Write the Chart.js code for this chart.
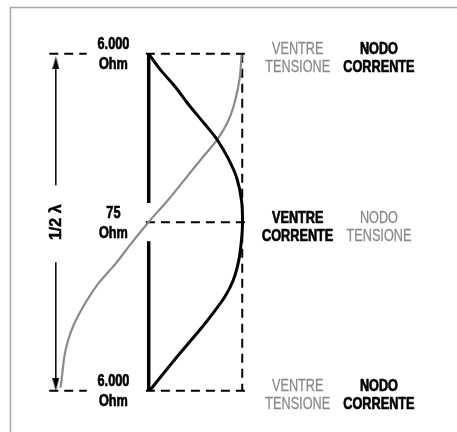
<!DOCTYPE html>
<html><head><meta charset="utf-8">
<script src="https://cdn.jsdelivr.net/npm/chart.js@4.4.0/dist/chart.umd.min.js"></script>
<style>html,body{margin:0;padding:0;background:#fff;} canvas{display:block;}</style>
</head><body>
<canvas id="c" width="457" height="432"></canvas>
<script>
// Position along the half-wave dipole: 1 = top end, 0.5 = feed point, 0 = bottom end
const currentPos = [1.000,0.951,0.903,0.851,0.794,0.745,0.688,0.630,0.564,0.499,0.450,0.387,0.327,0.278,0.232,0.189,0.146,0.100,0.049,0.000];
const currentAmp = [0.00,0.13,0.28,0.42,0.59,0.73,0.85,0.94,0.99,1.00,0.99,0.96,0.90,0.81,0.69,0.57,0.44,0.30,0.15,0.01];
const voltagePos = [0.997,0.928,0.860,0.802,0.745,0.688,0.622,0.564,0.501,0.436,0.378,0.321,0.281,0.244,0.195,0.149,0.100,0.052,0.009];
const voltageAmp = [0.99,0.97,0.92,0.85,0.73,0.56,0.37,0.20,0.00,-0.19,-0.35,-0.53,-0.63,-0.71,-0.80,-0.86,-0.90,-0.92,-0.94];
const rowPos = [1, 0.5, 0];
const impedance = ["6.000", "75", "6.000"];
const impedanceUnit = "Ohm";
const ventreOf = ["TENSIONE", "CORRENTE", "TENSIONE"];
const nodoOf = ["CORRENTE", "TENSIONE", "CORRENTE"];
const lengthLabel = "1/2 \u03BB";

const GRAY = '#8a8a8a';
const colorOf = w => (w === 'TENSIONE' ? GRAY : '#000');

// annotation geometry (data units)
const feedGap = [0.557, 0.444];
const guideX = 0.997;
const arrowX = -0.99;

const pts = (xs, ys) => xs.map((x, i) => ({x: x, y: ys[i]}));

const antenna = [{x:0,y:1},{x:0,y:feedGap[0]},{x:0,y:null},{x:0,y:feedGap[1]},{x:0,y:0}];
const guides = [];
rowPos.forEach((p, i) => {
  if (i !== 1) { guides.push({x:-1.06,y:p},{x:-0.66,y:p},{x:null,y:null}); }
  guides.push({x:-0.03,y:p},{x:1.05,y:p},{x:null,y:null});
});
guides.push({x:guideX,y:1},{x:guideX,y:0});

// elongated arrow head used as point style
const head = document.createElement('canvas');
head.width = 7; head.height = 13;
(function () {
  const h = head.getContext('2d');
  h.fillStyle = '#000';
  h.beginPath(); h.moveTo(3.5, 0); h.lineTo(7, 13); h.lineTo(0, 13); h.closePath(); h.fill();
})();

const textPlugin = {
  id: 'texts',
  beforeDraw(chart) {
    const ctx = chart.ctx;
    ctx.save();
    ctx.strokeStyle = '#a8a8a8';
    ctx.lineWidth = 1.5;
    ctx.beginPath();
    ctx.moveTo(10.5, 432); ctx.lineTo(10.5, 7.5); ctx.lineTo(457, 7.5);
    ctx.stroke();
    ctx.restore();
  },
  afterDatasetsDraw(chart) {
    const ctx = chart.ctx;
    const xs = chart.scales.x, ys = chart.scales.y;
    const put = (t, x, y, color, bold) => {
      ctx.save();
      ctx.translate(x, y);
      ctx.scale(0.77, 1);
      ctx.fillStyle = color;
      ctx.strokeStyle = color;
      ctx.lineJoin = 'round';
      ctx.font = (bold ? 'bold' : 'normal') + ' 16.5px "Liberation Sans", Arial, sans-serif';
      ctx.textAlign = 'center';
      ctx.textBaseline = 'alphabetic';
      ctx.fillText(t, 0, 0);
      ctx.lineWidth = bold ? 0.7 : 0.3;
      ctx.strokeText(t, 0, 0);
      ctx.restore();
    };
    rowPos.forEach((p, i) => {
      const y = ys.getPixelForValue(p);
      const xi = xs.getPixelForValue(-0.376);
      put(impedance[i], xi, y - 4.5, '#000', true);
      put(impedanceUnit, xi, y + 15.5, '#000', true);
      const xv = xs.getPixelForValue(1.588);
      const cv = colorOf(ventreOf[i]);
      put('VENTRE', xv, y + 0.5, cv, cv !== GRAY);
      put(ventreOf[i], xv, y + 18.5, cv, cv !== GRAY);
      const xn = xs.getPixelForValue(2.454);
      const cn = colorOf(nodoOf[i]);
      put('NODO', xn, y + 0.5, cn, cn !== GRAY);
      put(nodoOf[i], xn, y + 18.5, cn, cn !== GRAY);
    });
    ctx.save();
    ctx.translate(xs.getPixelForValue(arrowX) + 5, ys.getPixelForValue(0.5));
    ctx.rotate(-Math.PI / 2);
    ctx.fillStyle = '#000';
    ctx.strokeStyle = '#000';
    ctx.font = 'bold 16px "Liberation Sans", Arial, sans-serif';
    ctx.textAlign = 'center';
    ctx.textBaseline = 'alphabetic';
    ctx.fillText(lengthLabel, 0, 0);
    ctx.lineWidth = 0.5;
    ctx.strokeText(lengthLabel, 0, 0);
    ctx.restore();
  }
};

new Chart(document.getElementById('c'), {
  type: 'scatter',
  data: {
    datasets: [
      { label: 'corrente', data: pts(currentAmp, currentPos), showLine: true, borderColor: '#000', borderWidth: 3, tension: 0.3, pointRadius: 0 },
      { label: 'tensione', data: pts(voltageAmp, voltagePos), showLine: true, borderColor: GRAY, borderWidth: 2.2, tension: 0.3, pointRadius: 0 },
      { label: 'antenna', data: antenna, showLine: true, spanGaps: false, borderColor: '#000', borderWidth: 3.5, pointRadius: 0 },
      { label: 'guide', data: guides, showLine: true, spanGaps: false, borderColor: '#000', borderWidth: 2, borderDash: [9, 6], pointRadius: 0 },
      { label: 'arrowUp', data: [{x:arrowX,y:0.61},{x:arrowX,y:0.973}], showLine: true, borderColor: '#000', borderWidth: 1.5,
        pointRadius: [0, 6], pointStyle: head, rotation: 0 },
      { label: 'arrowDown', data: [{x:arrowX,y:0.381},{x:arrowX,y:0.019}], showLine: true, borderColor: '#000', borderWidth: 1.5,
        pointRadius: [0, 6], pointStyle: head, rotation: 180 }
    ]
  },
  options: {
    responsive: false,
    animation: false,
    devicePixelRatio: 1,
    layout: { padding: 0 },
    plugins: { legend: { display: false }, tooltip: { enabled: false } },
    scales: {
      x: { type: 'linear', min: -1.505, max: 3.206, display: false },
      y: { type: 'linear', min: -0.1003, max: 1.1375, display: false }
    }
  },
  plugins: [textPlugin]
});
</script>
</body></html>
